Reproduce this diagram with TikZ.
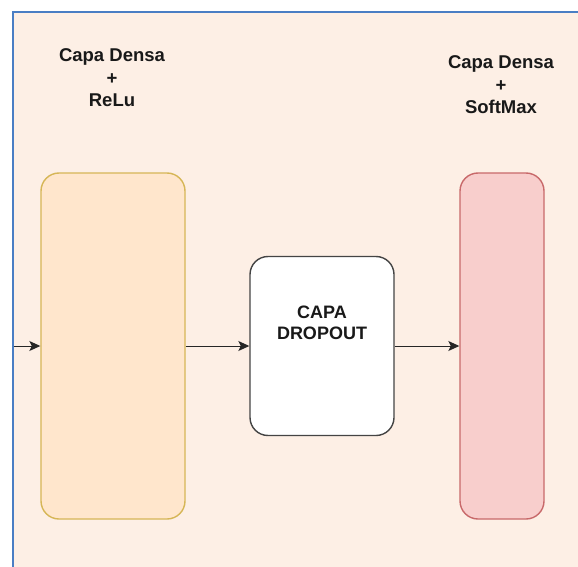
\documentclass[tikz,border=0pt]{standalone}
\usepackage{fontspec}
\setmainfont{Liberation Sans}
\usetikzlibrary{arrows.meta}
\definecolor{panelbg}{HTML}{FDEFE5}
\definecolor{paneledge}{HTML}{4A7EC4}
\definecolor{relufill}{HTML}{FFE6CC}
\definecolor{reluedge}{HTML}{D6B656}
\definecolor{softfill}{HTML}{F8CECC}
\definecolor{softedge}{HTML}{C8696A}
\definecolor{dropedge}{HTML}{444444}
\begin{document}
\begin{tikzpicture}[x=1pt,y=-1pt,
  layerbox/.style={rounded corners=18pt, line width=1.4pt, inner sep=0pt},
  caption/.style={align=center, font=\fontsize{18.5}{22.5}\selectfont\bfseries, text=black!90},
  flow/.style={-{Stealth[length=11pt,width=10pt,inset=2.5pt]}, line width=1pt, draw=black!85}]
  \useasboundingbox (0,0) rectangle (578,567);
  \fill[white] (0,0) rectangle (578,567);
  % framed panel
  \fill[panelbg] (12,12) rectangle (578,567);
  \draw[paneledge, line width=2pt] (12.5,567) -- (12.5,12.5) -- (578,12.5);

  % layers
  \node[layerbox, draw=reluedge, fill=relufill, minimum width=144pt, minimum height=346pt]
    (relu) at (113,346) {};
  \node[layerbox, draw=dropedge, fill=white, minimum width=144pt, minimum height=179pt]
    (drop) at (322,346) {};
  \node[layerbox, draw=softedge, fill=softfill, minimum width=84pt, minimum height=346pt]
    (soft) at (502,346) {};

  % labels
  \node[caption] (relulbl) at (112,78) {Capa Densa\\+\\ReLu};
  \node[caption] (softlbl) at (501,85) {Capa Densa\\+\\SoftMax};
  \node[caption, font=\fontsize{18}{21}\selectfont\bfseries] (droplbl) at (322,323) {CAPA\\DROPOUT};

  % connectors
  \coordinate (input) at (13.5,346);
  \draw[flow] (input) -- (relu.west);
  \draw[flow] (relu.east) -- (drop.west);
  \draw[flow] (drop.east) -- (soft.west);
\end{tikzpicture}
\end{document}
